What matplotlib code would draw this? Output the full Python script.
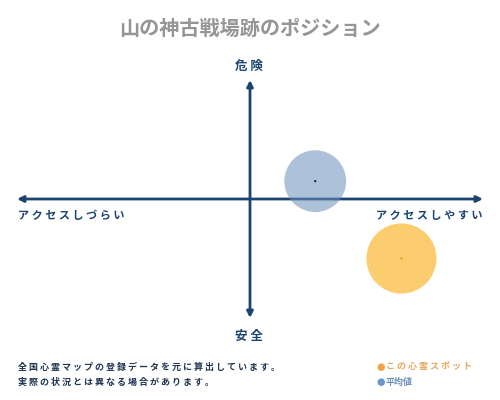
import matplotlib
matplotlib.use("Agg")
import matplotlib.pyplot as plt

plt.rcParams['font.family'] = ['Noto Sans CJK JP', 'DejaVu Sans']

title = "山の神古戦場跡のポジション"
y_top_label = "危 険"
y_bottom_label = "安 全"
x_left_label = "アクセスしづらい"
x_right_label = "アクセスしやすい"
note_lines = ["全国心霊マップの登録データを元に算出しています。",
              "実際の状況とは異なる場合があります。"]
series_names = ["この心霊スポット", "平均値"]
series_x = [6.5, 2.8]
series_y = [-5.0, 1.5]
series_sizes = [2550, 1980]
series_colors = ["#fcb832", "#6a8fbb"]
series_alpha = [0.7, 0.55]
dot_colors = ["#f0a020", "#1f3050"]
legend_dot_colors = ["#f4a340", "#6a98c8"]
legend_text_colors = ["#e8a860", "#6a90b8"]
navy = "#1b4470"


def spaced(s):
    return " ".join(s)


fig = plt.figure(figsize=(5, 4), dpi=100)
fig.patch.set_facecolor("white")

ax = fig.add_axes([0.034, 0.205, 0.932, 0.595])
ax.set_xlim(-10, 10)
ax.set_ylim(-10, 10)
ax.axis("off")

# axes arrows
ax.annotate("", xy=(-10, 0), xytext=(10, 0),
            arrowprops=dict(arrowstyle="<|-|>", color=navy, lw=2,
                            mutation_scale=9, shrinkA=0, shrinkB=0))
ax.annotate("", xy=(0, 10), xytext=(0, -10),
            arrowprops=dict(arrowstyle="<|-|>", color=navy, lw=2,
                            mutation_scale=9, shrinkA=0, shrinkB=0))

for x, y, s, c, a, dc in zip(series_x, series_y, series_sizes, series_colors,
                             series_alpha, dot_colors):
    ax.scatter([x], [y], s=s, color=c, alpha=a, edgecolors="none", zorder=3)
    ax.scatter([x], [y], s=3, color=dc, edgecolors="none", zorder=4)

fig.text(0.5, 0.93, title, ha="center", va="center", fontsize=14.5,
         color="#959595", fontweight="bold")
fig.text(0.498, 0.835, y_top_label, ha="center", va="center", fontsize=9,
         color=navy, fontweight="bold")
fig.text(0.498, 0.16, y_bottom_label, ha="center", va="center", fontsize=9,
         color=navy, fontweight="bold")
fig.text(0.036, 0.462, spaced(x_left_label), ha="left", va="center", fontsize=8,
         color=navy, fontweight="bold")
fig.text(0.966, 0.462, spaced(x_right_label), ha="right", va="center", fontsize=8,
         color=navy, fontweight="bold")

fig.text(0.036, 0.083, spaced(note_lines[0]), ha="left", va="center", fontsize=6.5,
         color="#1f3550", fontweight="bold")
fig.text(0.036, 0.045, spaced(note_lines[1]), ha="left", va="center", fontsize=6.5,
         color="#1f3550", fontweight="bold")

leg_y = [0.083, 0.045]
for name, dc, tc, ly in zip(series_names, legend_dot_colors, legend_text_colors, leg_y):
    fig.text(0.753, ly, "●", ha="left", va="center", fontsize=7,
             color=dc, family=["DejaVu Sans"])
    fig.text(0.772, ly, spaced(name) if len(name) > 3 else name, ha="left",
             va="center", fontsize=6.5, color=tc, fontweight="bold")

fig.savefig("out.png", dpi=100, facecolor="white")
